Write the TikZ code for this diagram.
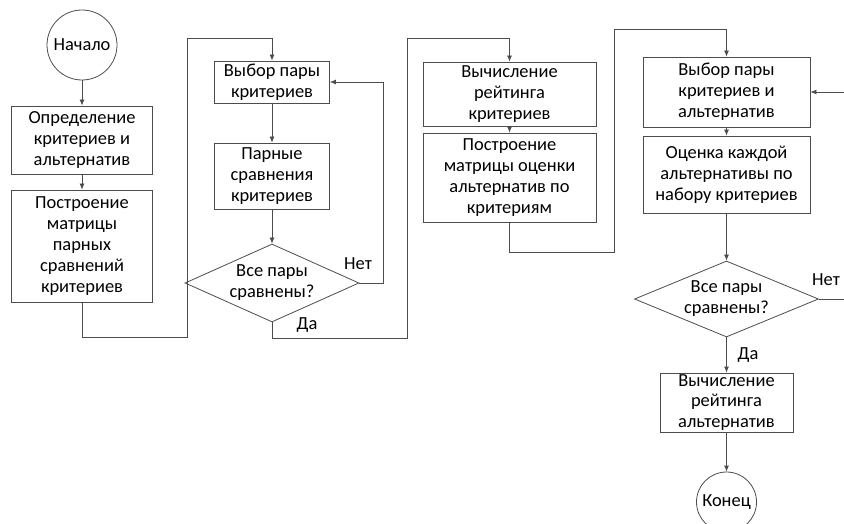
\documentclass[tikz,border=0pt]{standalone}
\usepackage{fontspec}
\setmainfont{Carlito}
\usetikzlibrary{shapes.geometric,arrows.meta,positioning}

\begin{document}
\begin{tikzpicture}[x=1bp, y=-1bp,
    every node/.style={font=\fontsize{18.5}{21}\selectfont},
    block/.style={draw=black!70, fill=white, align=center, inner sep=1pt, line width=0.8pt},
    term/.style={circle, draw=black!70, inner sep=0pt, line width=0.8pt},
    decision/.style={diamond, draw=black!70, aspect=2.2, inner sep=0pt, align=center, line width=0.8pt},
    line/.style={draw=black!70, line width=0.8pt},
    arr/.style={line, -{Latex[length=6bp,width=5bp]}}]
    \useasboundingbox (0,0) rectangle (844,524);

    % Column 1
    \node[term, minimum size=70bp] (S) at (82,45) {Начало};
    \node[block, minimum width=141bp, minimum height=68bp] (A) at (82,140) {Определение\\критериев и\\альтернатив};
    \node[block, minimum width=141bp, minimum height=112bp] (B) at (82,246) {Построение\\матрицы\\парных\\сравнений\\критериев};

    % Column 2
    \node[block, minimum width=115bp, minimum height=42bp] (C) at (272,82) {Выбор пары\\критериев};
    \node[block, minimum width=115bp, minimum height=66bp] (D) at (272,176) {Парные\\сравнения\\критериев};
    \node[decision, minimum width=174bp, minimum height=78bp] (Q1) at (272,283) {Все пары\\сравнены?};

    % Column 3
    \node[block, minimum width=173bp, minimum height=64bp] (E) at (509.5,94) {Вычисление\\рейтинга\\критериев};
    \node[block, minimum width=173bp, minimum height=89bp] (F) at (509.5,177.5) {Построение\\матрицы оценки\\альтернатив по\\критериям};

    % Column 4
    \node[block, minimum width=167bp, minimum height=70bp] (G) at (726.5,92) {Выбор пары\\критериев и\\альтернатив};
    \node[block, minimum width=167bp, minimum height=77bp] (H) at (726.5,174.5) {Оценка каждой\\альтернативы по\\набору критериев};
    \node[decision, minimum width=184bp, minimum height=76bp] (Q2) at (726.5,299) {Все пары\\сравнены?};
    \node[block, minimum width=133bp, minimum height=59bp] (K) at (726.5,402.5) {Вычисление\\рейтинга\\альтернатив};
    \node[term, minimum size=60bp] (T) at (726.5,502) {Конец};

    % Bend points
    \coordinate (P1) at (82,337);
    \coordinate (P2) at (187,38);
    \coordinate (N1) at (383,82);
    \coordinate (P3) at (272,338);
    \coordinate (P4) at (407,38);
    \coordinate (P5) at (509.5,252);
    \coordinate (P6) at (614,29);
    \coordinate (R1) at (844,299);
    \coordinate (R2) at (844,92);

    % Edges
    \draw[arr] (S) -- (A);
    \draw[arr] (A) -- (B);
    \draw[arr] (B) -- (P1) -| (P2) -| (C);
    \draw[arr] (C) -- (D);
    \draw[arr] (D) -- (Q1);
    \draw[arr] (Q1.east) -| (N1) -- (C.east);
    \draw[arr] (Q1.south) -- (P3) -| (P4) -| (E);
    \draw[arr] (E) -- (F);
    \draw[arr] (F) -- (P5) -| (P6) -| (G);
    \draw[arr] (G) -- (H);
    \draw[arr] (H) -- (Q2);
    \draw[arr] (Q2) -- (K);
    \draw[arr] (K) -- (T);
    \draw[line] (Q2.east) -- (R1);
    \draw[arr] (R2) -- (G.east);

    % Labels
    \node (L1) at (358,264) {Нет};
    \node (L2) at (307,325) {Да};
    \node (L3) at (826,280) {Нет};
    \node (L4) at (748,355) {Да};
\end{tikzpicture}
\end{document}
